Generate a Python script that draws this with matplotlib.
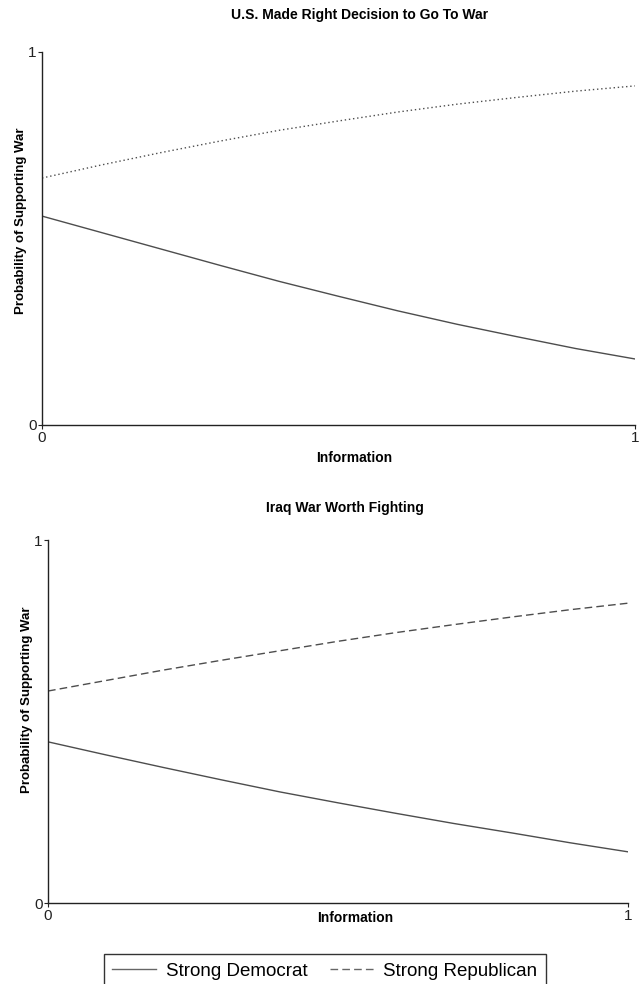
import matplotlib
matplotlib.use("Agg")
import matplotlib.pyplot as plt
from matplotlib.lines import Line2D

plt.rcParams['font.family'] = ['Liberation Sans', 'DejaVu Sans']

# information level (x axis)
info = [0.0, 0.1, 0.2, 0.3, 0.4, 0.5, 0.6, 0.7, 0.8, 0.9, 1.0]

# panel 1: U.S. made right decision to go to war
right_dem = [0.560, 0.516, 0.472, 0.428, 0.385, 0.345, 0.306, 0.270, 0.237, 0.205, 0.177]
right_rep = [0.662, 0.697, 0.730, 0.761, 0.790, 0.815, 0.839, 0.860, 0.878, 0.895, 0.909]

# panel 2: Iraq war worth fighting
worth_dem = [0.444, 0.408, 0.373, 0.339, 0.306, 0.276, 0.247, 0.219, 0.193, 0.166, 0.141]
worth_rep = [0.584, 0.613, 0.642, 0.669, 0.695, 0.721, 0.745, 0.767, 0.788, 0.808, 0.826]

titles = ["U.S. Made Right Decision to Go To War", "Iraq War Worth Fighting"]
series = ['Strong Democrat', 'Strong Republican']
line_col = '#4d4d4d'
dash = (0, (5.5, 3))

fig = plt.figure(figsize=(6.43, 9.84), dpi=100)
ax1 = fig.add_axes([0.0653, 0.5681, 0.9222, 0.3791])
ax2 = fig.add_axes([0.0747, 0.0823, 0.9020, 0.3689])


def panel(ax, dem, rep, rep_style, title, title_x, title_pad, xlab_x, xlab_pad, ylab_y):
    ax.plot(info, dem, color=line_col, lw=1.0, ls='-')
    ax.plot(info, rep, color=line_col, lw=1.0, ls=rep_style)
    ax.set_xlim(0, 1)
    ax.set_ylim(0, 1)
    ax.set_xticks([0, 1])
    ax.set_yticks([0, 1])
    ax.set_xticklabels(['0', '1'])
    ax.set_yticklabels(['0', '1'])
    for s in ['top', 'right']:
        ax.spines[s].set_visible(False)
    for s in ['left', 'bottom']:
        ax.spines[s].set_linewidth(1.0)
        ax.spines[s].set_color('#222222')
    ax.tick_params(length=3, width=0.8, pad=1, labelsize=11, colors='#222222')
    ax.set_title(title, fontsize=10, fontweight='bold', pad=title_pad, x=title_x)
    ax.set_xlabel('Information', fontsize=10, fontweight='bold', labelpad=xlab_pad, x=xlab_x)
    ax.set_ylabel('Probability of Supporting War', fontsize=9.5, fontweight='bold',
                  labelpad=1, y=ylab_y)


panel(ax1, right_dem, right_rep, (0, (1, 2)), titles[0], 0.535, 24, 0.526, 5, 0.547)
panel(ax2, worth_dem, worth_rep, dash, titles[1], 0.512, 20, 0.529, -8, 0.559)

handles = [Line2D([], [], color='#666666', lw=1.0, ls='-'),
           Line2D([], [], color='#666666', lw=1.0, ls=dash)]
leg = fig.legend(handles, series,
                 loc='upper center', bbox_to_anchor=(0.505, 1 - 954 / 984), ncol=2,
                 fontsize=13.5, frameon=True, fancybox=False, edgecolor='black',
                 handlelength=2.35, handletextpad=0.5, columnspacing=1.2,
                 borderpad=0.45, borderaxespad=0)
leg.get_frame().set_linewidth(1.0)

fig.savefig('out.png', dpi=100)
